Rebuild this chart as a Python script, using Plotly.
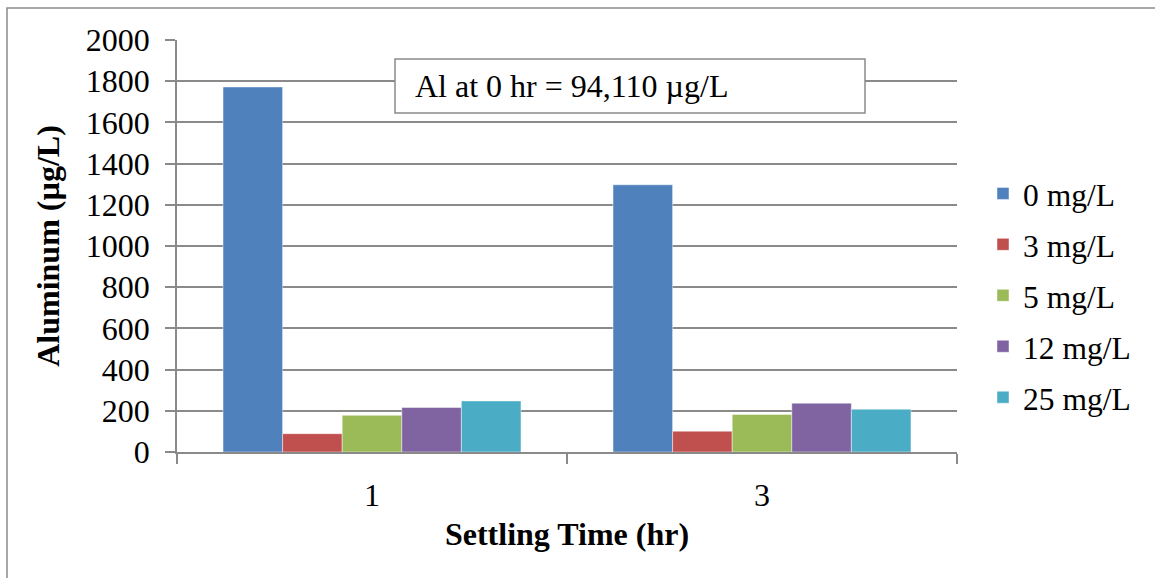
import plotly.graph_objects as go

# Settling time categories (hr)
settling_time = ["1", "3"]

# Aluminum remaining (µg/L) for each coagulant dose
dose_labels = ["0 mg/L", "3 mg/L", "5 mg/L", "12 mg/L", "25 mg/L"]
al_0 = [1772, 1297]
al_3 = [89, 101]
al_5 = [178, 182]
al_12 = [216, 237]
al_25 = [248, 208]
series_values = [al_0, al_3, al_5, al_12, al_25]
colors = ["#4F81BD", "#C0504D", "#9BBB59", "#8064A2", "#4BACC6"]

y_ticks = [0, 200, 400, 600, 800, 1000, 1200, 1400, 1600, 1800, 2000]

FONT = "Liberation Serif, Times New Roman, serif"
FS = 32
GRID = "#8a8a8a"

fig = go.Figure()
for i, (name, vals, col) in enumerate(zip(dose_labels, series_values, colors)):
    fig.add_trace(go.Bar(
        x=settling_time, y=vals, name=name,
        legendgroup=f"g{i}",
        marker=dict(color=col, line=dict(color="rgba(255,255,255,0.45)", width=1)),
    ))

# plot area geometry
L, R, T, B = 177, 198, 40, 126
W, H = 1155, 578
pw, ph = W - L - R, H - T - B

def px_x(x):
    return (x - L) / pw

def px_y(y):
    return (H - B - y) / ph

fig.update_layout(
    width=W, height=H,
    margin=dict(l=L, r=R, t=T, b=B, pad=0),
    paper_bgcolor="white", plot_bgcolor="white",
    barmode="group", bargap=0.236, bargroupgap=0,
    font=dict(family=FONT, size=FS, color="black"),
    showlegend=True,
    legend=dict(
        x=px_x(983), xanchor="left", y=0.38, yanchor="middle",
        tracegroupgap=7, font=dict(size=FS - 0.5),
        bgcolor="rgba(0,0,0,0)", itemclick=False,
    ),
    xaxis=dict(
        type="category", tickson="boundaries",
        ticks="outside", ticklen=10, tickwidth=1.5, tickcolor=GRID,
        showline=True, linecolor=GRID, linewidth=1.5,
        showgrid=False, ticklabelstandoff=14,
        title=dict(text="<b>Settling Time (hr)</b>", standoff=10,
                   font=dict(size=FS)),
    ),
    yaxis=dict(
        range=[0, 2000], tickvals=y_ticks,
        ticks="outside", ticklen=10, tickwidth=1.5, tickcolor=GRID,
        showline=True, linecolor=GRID, linewidth=1.5,
        showgrid=True, gridcolor=GRID, gridwidth=1.5,
        zeroline=False, ticklabelstandoff=9,
        title=dict(text="<b>Aluminum (µg/L)</b>", standoff=17,
                   font=dict(size=FS)),
    ),
    shapes=[
        # outer chart border
        dict(type="rect", xref="paper", yref="paper",
             x0=px_x(7), x1=px_x(1170), y0=px_y(8), y1=px_y(600),
             line=dict(color=GRID, width=1.5), fillcolor="rgba(0,0,0,0)",
             layer="above"),
        # note box
        dict(type="rect", xref="paper", yref="paper",
             x0=px_x(395), x1=px_x(865), y0=px_y(59), y1=px_y(113),
             line=dict(color=GRID, width=1.5), fillcolor="white",
             layer="above"),
    ],
    annotations=[
        dict(text="Al at 0 hr = 94,110 µg/L", xref="paper", yref="paper",
             x=px_x(413), xanchor="left", y=px_y(86), yanchor="middle",
             showarrow=False, font=dict(size=FS, family=FONT)),
    ],
)

fig.write_html("out.html")
